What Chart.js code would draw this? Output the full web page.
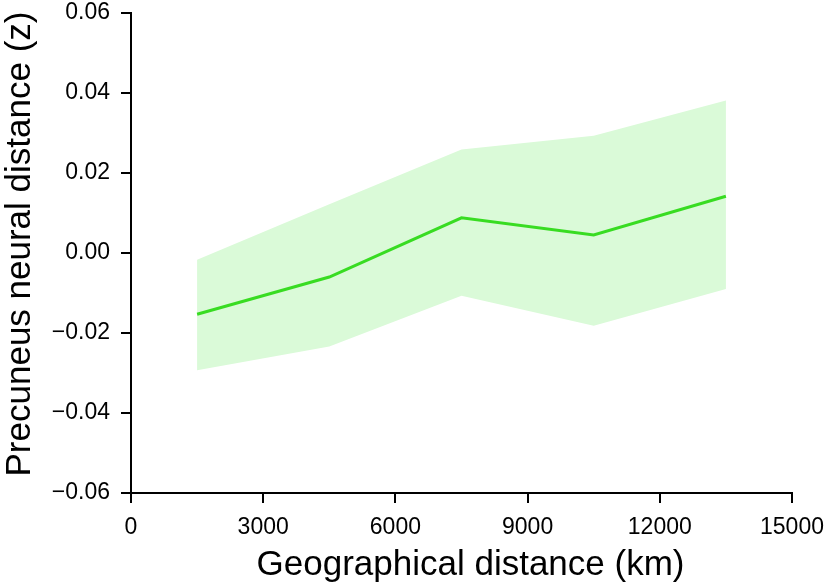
<!DOCTYPE html>
<html>
<head>
<meta charset="utf-8">
<script src="https://cdn.jsdelivr.net/npm/chart.js@4.4.0/dist/chart.umd.min.js"></script>
<style>
html,body{margin:0;padding:0;background:#fff;}
#wrap{width:826px;height:583px;position:relative;}
</style>
</head>
<body>
<div id="wrap"><canvas id="c" width="826" height="583"></canvas></div>
<script>
const distances = [1500, 4500, 7500, 10500, 13500];
const meanValues = [-0.0153, -0.0060, 0.0088, 0.0045, 0.0142];
const upperValues = [-0.0017, 0.0122, 0.0259, 0.0293, 0.0381];
const lowerValues = [-0.0293, -0.0234, -0.0107, -0.0182, -0.0090];
const xTicks = [0, 3000, 6000, 9000, 12000, 15000];
const yTicks = [-0.06, -0.04, -0.02, 0.00, 0.02, 0.04, 0.06];
const xTitle = 'Geographical distance (km)';
const yTitle = 'Precuneus neural distance (z)';

const toPts = arr => distances.map((d, i) => ({x: d, y: arr[i]}));
const FONT = "'Liberation Sans', Arial, Helvetica, sans-serif";

const axisTitles = {
  id: 'axisTitles',
  afterDraw(chart) {
    const ctx = chart.ctx;
    const ca = chart.chartArea;
    ctx.save();
    ctx.fillStyle = '#000';
    ctx.font = '35px ' + FONT;
    ctx.textAlign = 'center';
    ctx.textBaseline = 'alphabetic';
    ctx.fillText(xTitle, (ca.left + ca.right) / 2 + 9, 575);
    ctx.translate(30, (ca.top + ca.bottom) / 2 - 9);
    ctx.rotate(-Math.PI / 2);
    ctx.fillText(yTitle, 0, 0);
    ctx.restore();
  }
};

new Chart(document.getElementById('c'), {
  type: 'line',
  data: {
    datasets: [
      {label: 'upper', data: toPts(upperValues), borderWidth: 0, borderColor: 'rgba(0,0,0,0)', pointRadius: 0, backgroundColor: '#dafad8', fill: '+1', order: 2},
      {label: 'lower', data: toPts(lowerValues), borderWidth: 0, borderColor: 'rgba(0,0,0,0)', pointRadius: 0, fill: false, order: 2},
      {label: 'mean', data: toPts(meanValues), borderWidth: 3, borderColor: '#38dc22', pointRadius: 0, fill: false, order: 1}
    ]
  },
  plugins: [axisTitles],
  options: {
    responsive: false,
    animation: false,
    events: [],
    layout: {padding: {top: 13, right: 34, left: 0, bottom: 0}},
    plugins: {legend: {display: false}, tooltip: {enabled: false}},
    scales: {
      x: {
        type: 'linear', min: 0, max: 15000,
        afterBuildTicks: s => { s.ticks = xTicks.map(v => ({value: v})); },
        afterFit: s => { s.height = 90; s.paddingLeft = 0; s.paddingRight = 0; },
        border: {display: true, color: '#000', width: 2},
        grid: {display: true, drawOnChartArea: false, color: '#000', tickColor: '#000', tickLength: 10, lineWidth: 2},
        ticks: {color: '#000', font: {family: FONT, size: 23}, padding: 11, maxRotation: 0, autoSkip: false, callback: v => String(v)},
        title: {display: false}
      },
      y: {
        type: 'linear', min: -0.06, max: 0.06,
        afterBuildTicks: s => { s.ticks = yTicks.map(v => ({value: v})); },
        afterFit: s => { s.width = 131; s.paddingTop = 0; s.paddingBottom = 0; },
        border: {display: true, color: '#000', width: 2},
        grid: {display: true, drawOnChartArea: false, color: '#000', tickColor: '#000', tickLength: 10, lineWidth: 2},
        ticks: {color: '#000', font: {family: FONT, size: 23}, padding: 11, autoSkip: false, callback: v => v.toFixed(2).replace('-', '\u2212')},
        title: {display: false}
      }
    }
  }
});
</script>
</body>
</html>
